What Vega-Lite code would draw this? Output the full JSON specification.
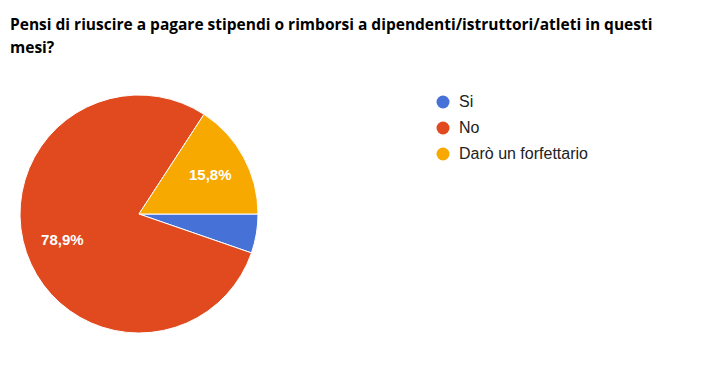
{
  "$schema": "https://vega.github.io/schema/vega-lite/v6.json",
  "width": 238,
  "height": 238,
  "autosize": {"type": "none"},
  "padding": {"left": 20, "top": 95, "right": 444, "bottom": 37},
  "background": "white",
  "title": {
    "text": ["Pensi di riuscire a pagare stipendi o rimborsi a dipendenti/istruttori/atleti in questi", "mesi?"],
    "anchor": "start",
    "font": "Open Sans",
    "fontSize": 15.5,
    "fontWeight": "bold",
    "color": "#000000",
    "lineHeight": 23,
    "limit": 700,
    "dx": -8,
    "offset": 37
  },
  "data": {
    "values": [
      {"risposta": "Si", "percentuale": 5.3, "idx": 1, "etichetta": ""},
      {"risposta": "No", "percentuale": 78.9, "idx": 2, "etichetta": "78,9%"},
      {"risposta": "Darò un forfettario", "percentuale": 15.8, "idx": 3, "etichetta": "15,8%"}
    ]
  },
  "encoding": {
    "theta": {"field": "percentuale", "type": "quantitative", "stack": true, "scale": {"range": [1.5707963, 7.8539816]}},
    "order": {"field": "idx", "type": "quantitative"},
    "color": {
      "field": "risposta",
      "type": "nominal",
      "sort": ["Si", "No", "Darò un forfettario"],
      "scale": {"domain": ["Si", "No", "Darò un forfettario"], "range": ["#4672d8", "#e14a1e", "#f8a900"]},
      "legend": {
        "title": null,
        "orient": "none",
        "legendX": 415,
        "legendY": -1,
        "symbolType": "circle",
        "symbolSize": 169,
        "symbolStrokeWidth": 0,
        "labelFont": "Liberation Sans",
        "labelFontSize": 16,
        "labelColor": "#222222",
        "rowPadding": 10,
        "labelOffset": 8
      }
    }
  },
  "layer": [
    {"mark": {"type": "arc", "outerRadius": 119, "stroke": "white", "strokeWidth": 1}},
    {
      "mark": {"type": "text", "radius": 81, "font": "Liberation Sans", "fontSize": 15, "fontWeight": "bold", "fill": "white"},
      "encoding": {"text": {"field": "etichetta", "type": "nominal"}, "color": {"value": "white"}}
    }
  ]
}
